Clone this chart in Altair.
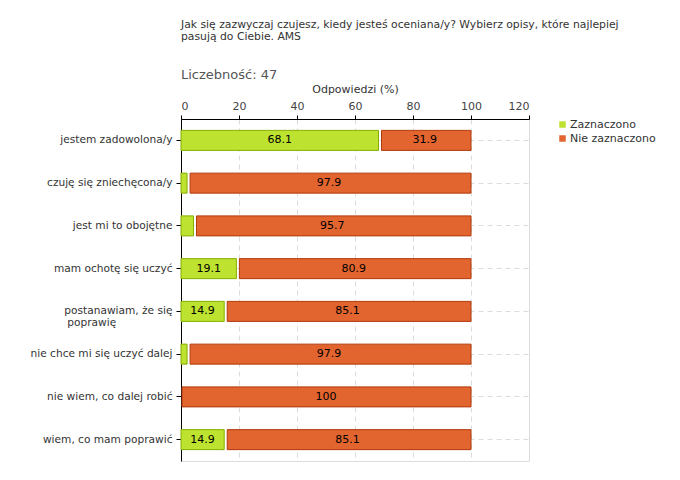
import altair as alt
import pandas as pd

categories = [
    "jestem zadowolona/y",
    "czuję się zniechęcona/y",
    "jest mi to obojętne",
    "mam ochotę się uczyć",
    "postanawiam, że się\npoprawię",
    "nie chce mi się uczyć dalej",
    "nie wiem, co dalej robić",
    "wiem, co mam poprawić",
]
zaznaczono = [68.1, 2.1, 4.3, 19.1, 14.9, 2.1, 0.0, 14.9]
nie_zaznaczono = [31.9, 97.9, 95.7, 80.9, 85.1, 97.9, 100.0, 85.1]
series_names = ["Zaznaczono", "Nie zaznaczono"]
fill_colors = ["#bde22f", "#e2642f"]
stroke_colors = ["#86ad00", "#b03a0c"]
x_ticks = [0, 10, 20, 30, 40, 50, 60, 70, 80, 90, 100, 110, 120]

rows = []
for c, z, n in zip(categories, zaznaczono, nie_zaznaczono):
    rows.append({"cat": c, "series": series_names[0], "start": 0.0, "end": z, "value": z, "green": z})
    rows.append({"cat": c, "series": series_names[1], "start": z, "end": z + n, "value": n, "green": z})
df = pd.DataFrame(rows)
df["mid"] = (df["start"] + df["end"]) / 2
df["label"] = df["value"].map(lambda v: f"{v:g}")

FONT = "DejaVu Sans"
PAD = "\u2003" * 5 + "\u00a0" + "\u2060"

x_enc = alt.X(
    "start:Q",
    scale=alt.Scale(domain=[0, 120], nice=False, zero=True),
    axis=alt.Axis(
        orient="top",
        title="Odpowiedzi (%)",
        titleFont=FONT, titleFontSize=11, titleFontWeight="normal", titleColor="#333",
        titlePadding=6,
        values=x_ticks,
        labelExpr="datum.value % 20 === 0 ? datum.label : ''",
        labelFont=FONT, labelFontSize=11, labelColor="#444", labelPadding=4,
        domainColor="#000", domainWidth=1,
        tickColor={"condition": {"test": "datum.value % 20 === 0", "value": "#000"}, "value": "#e00000"},
        tickSize=4,
        grid=True,
        gridDash=[5, 4],
        gridColor="#dcdcdc",
        gridOpacity={"condition": {"test": "datum.value % 20 === 0 && datum.value > 0", "value": 1}, "value": 0},
    ),
)
y_enc = alt.Y(
    "cat:N",
    sort=categories,
    scale=alt.Scale(paddingInner=0, paddingOuter=0),
    axis=alt.Axis(
        title=None,
        labelExpr="indexof(datum.label, '\\n') >= 0 ? [split(datum.label, '\\n')[0], split(datum.label, '\\n')[1] + '" + PAD + "'] : datum.label",
        labelFont=FONT, labelFontSize=10.6, labelColor="#333", labelLineHeight=12,
        labelPadding=4,
        domainColor="#000", tickColor="#000", tickSize=5,
        tickBand="center",
        grid=True, gridDash=[5, 4], gridColor="#dcdcdc",
    ),
)

color_fill = alt.Color(
    "series:N",
    scale=alt.Scale(domain=series_names, range=fill_colors),
    legend=alt.Legend(
        title=None, orient="none", legendX=376, legendY=0, padding=0,
        symbolType="square", symbolSize=42, symbolStrokeWidth=0,
        labelFont=FONT, labelFontSize=11, labelColor="#333", labelOffset=2,
        rowPadding=2,
    ),
)
stroke_enc = alt.Stroke(
    "series:N",
    scale=alt.Scale(domain=series_names, range=stroke_colors),
    legend=None,
)

base = alt.Chart(df)

green_bars = base.transform_filter(
    (alt.datum.series == series_names[0]) & (alt.datum.value > 0)
).mark_bar(size=20, strokeWidth=1).encode(
    x=x_enc, x2="end:Q", y=y_enc, color=color_fill, stroke=stroke_enc
)
orange_bars_gap = base.transform_filter(
    (alt.datum.series == series_names[1]) & (alt.datum.green > 0)
).mark_bar(size=20, strokeWidth=1, xOffset=3).encode(
    x=x_enc, x2="end:Q", y=y_enc, color=color_fill, stroke=stroke_enc
)
orange_bars_full = base.transform_filter(
    (alt.datum.series == series_names[1]) & (alt.datum.green <= 0)
).mark_bar(size=20, strokeWidth=1, xOffset=1).encode(
    x=x_enc, x2="end:Q", y=y_enc, color=color_fill, stroke=stroke_enc
)
labels = base.transform_filter(alt.datum.value >= 8).mark_text(
    font=FONT, fontSize=11, color="#000", baseline="middle", align="center"
).encode(
    x=alt.X("mid:Q"),
    y=alt.Y("cat:N", sort=categories),
    text="label:N",
)

title_lines = [
    "Jak się zazwyczaj czujesz, kiedy jesteś oceniana/y? Wybierz opisy, które najlepiej",
    "pasują do Ciebie. AMS",
]
count_text = "Liczebność: 47"

title1 = alt.Chart(pd.DataFrame({"t": [title_lines[0]]})).mark_text(
    font=FONT, fontSize=10.8, color="#333", align="left", baseline="middle"
).encode(x=alt.value(0), y=alt.value(-94), text="t:N")
title2 = alt.Chart(pd.DataFrame({"t": [title_lines[1]]})).mark_text(
    font=FONT, fontSize=10.8, color="#333", align="left", baseline="middle"
).encode(x=alt.value(0), y=alt.value(-82), text="t:N")
count = alt.Chart(pd.DataFrame({"t": [count_text]})).mark_text(
    font=FONT, fontSize=13, color="#555", align="left", baseline="middle"
).encode(x=alt.value(0), y=alt.value(-44), text="t:N")

chart = alt.layer(
    green_bars, orange_bars_gap, orange_bars_full, labels, title1, title2, count
).resolve_scale(
    color="shared", stroke="shared"
).properties(
    width=348,
    height=342,
    autosize=alt.AutoSizeParams(type="none"),
    padding={"left": 173, "top": 111, "right": 140, "bottom": 10},
).configure_view(stroke=None).configure(background="white")

chart.save("out.html", embed_options={"renderer": "svg", "actions": False})
